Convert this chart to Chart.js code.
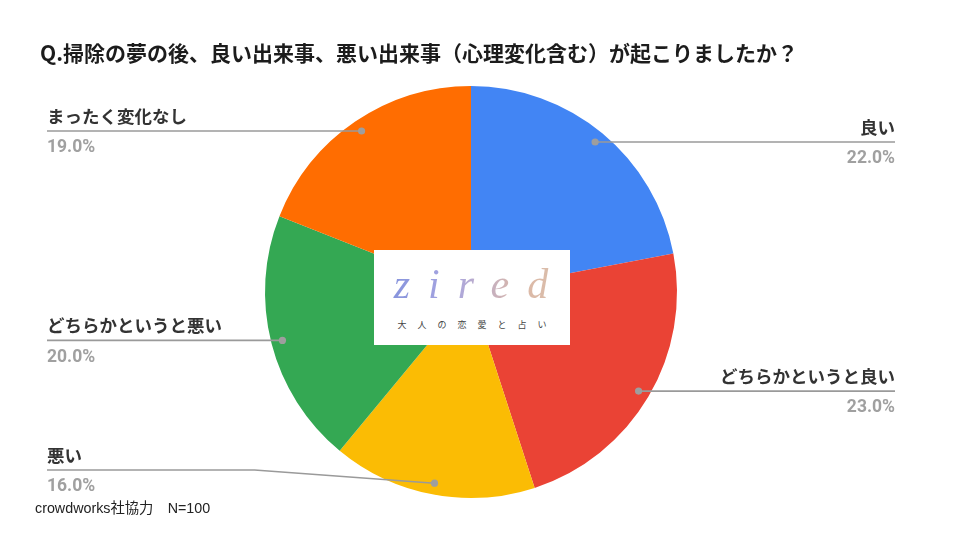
<!DOCTYPE html>
<html>
<head>
<meta charset="utf-8">
<script src="https://cdn.jsdelivr.net/npm/chart.js@4.4.1/dist/chart.umd.min.js"></script>
<style>
body{margin:0;background:#fff;}
#wrap{position:relative;width:960px;height:540px;overflow:hidden;}
#title{position:absolute;left:40px;top:37px;font:bold 21px "Noto Sans CJK JP","Liberation Sans",sans-serif;color:#1c1c1c;white-space:nowrap;}
#note{position:absolute;left:35px;top:496px;font:14.3px "Liberation Sans","Noto Sans CJK JP",sans-serif;color:#222;white-space:nowrap;}
#logo{position:absolute;left:374px;top:250px;width:196px;height:95px;background:#fff;text-align:center;}
#logo .name{position:absolute;left:0;top:10px;width:196px;font:italic 300 42px "Liberation Serif","DejaVu Serif",serif;letter-spacing:18px;text-indent:16px;
background:linear-gradient(90deg,#7d8fdc,#a9a6e0 40%,#dcb8a6 75%,#d9c0ad);-webkit-background-clip:text;background-clip:text;color:transparent;}
#logo .sub{position:absolute;left:0;top:68px;width:196px;font:9px "Noto Sans CJK JP",sans-serif;letter-spacing:11px;text-indent:11px;color:#444;}
</style>
</head>
<body>
<div id="wrap">
<canvas id="pieChart" width="960" height="540"></canvas>
<div id="title">Q.掃除の夢の後、良い出来事、悪い出来事（心理変化含む）が起こりましたか？</div>
<div id="logo"><div class="name">zired</div><div class="sub">大人の恋愛と占い</div></div>
<div id="note">crowdworks社協力　N=100</div>
</div>
<script>

// ================= DATA =================

const categories = [
"良い",
"どちらかというと良い",
"悪い",
"どちらかというと悪い",
"まったく変化なし"
];

const shares = [
22.0,
23.0,
16.0,
20.0,
19.0
];

const sliceColors = [
"#4285f4",
"#ea4335",
"#fbbc04",
"#34a853",
"#ff6d01"
];


// ================= LEADER LABELS =================

const leaderLabels = {
id:"leaderLabels",
afterDatasetsDraw(chart){
const ctx = chart.ctx;
const meta = chart.getDatasetMeta(0);
const total = shares.reduce((a,b)=>a+b,0);
meta.data.forEach((arc,i)=>{
const p = arc.getProps(["x","y","startAngle","endAngle","outerRadius"],true);
const mid = (p.startAngle+p.endAngle)/2;
const rr = p.outerRadius*0.945;
const dx = p.x+Math.cos(mid)*rr;
const dy = p.y+Math.sin(mid)*rr;
const right = Math.cos(mid)>=0;
const ly = Math.min(dy,470);
const lx = right ? 895 : 47;

ctx.save();
ctx.strokeStyle="#9a9a9a";
ctx.lineWidth=1.6;
ctx.beginPath();
ctx.moveTo(lx,ly);
if(Math.abs(ly-dy)>1){
const bx = right ? dx+180 : dx-180;
ctx.lineTo(bx,ly);
}
ctx.lineTo(dx,dy);
ctx.stroke();

ctx.fillStyle="#9e9e9e";
ctx.beginPath();
ctx.arc(dx,dy,3.6,0,Math.PI*2);
ctx.fill();

ctx.textAlign = right ? "right" : "left";
ctx.textBaseline="middle";
ctx.fillStyle="#333333";
ctx.font='bold 17.5px "Noto Sans CJK JP", sans-serif';
ctx.fillText(categories[i],lx,ly-15);
ctx.fillStyle="#a0a0a0";
ctx.font='bold 17.5px Roboto, "Liberation Sans", sans-serif';
ctx.fillText((shares[i]/total*100).toFixed(1)+"%",lx,ly+17);
ctx.restore();
});
}
};


// ================= PIE =================

new Chart(document.getElementById("pieChart"),{
type:"pie",
data:{
labels:categories,
datasets:[{
data:shares,
backgroundColor:sliceColors,
borderWidth:0
}]
},
options:{
responsive:false,
animation:false,
layout:{
padding:{left:265,right:283,top:86,bottom:42}
},
plugins:{
legend:{display:false},
tooltip:{enabled:false}
}
},
plugins:[leaderLabels]
});

</script>
</body>
</html>
